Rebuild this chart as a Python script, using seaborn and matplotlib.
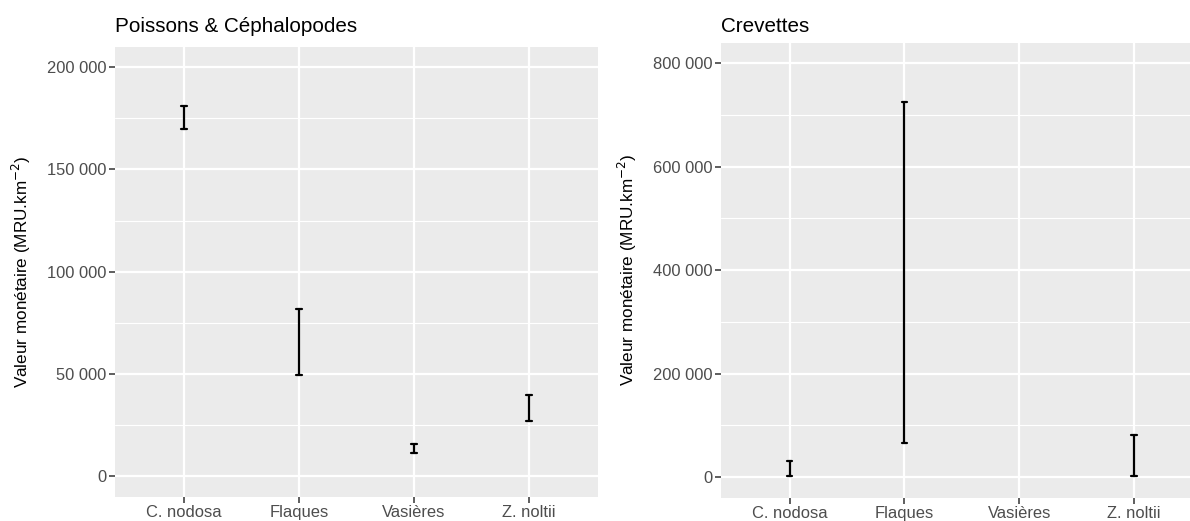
import numpy as np
import pandas as pd
import matplotlib
matplotlib.use("Agg")
import matplotlib.pyplot as plt
from matplotlib.ticker import FuncFormatter, MultipleLocator
import seaborn as sns

# =============================================================================
# Données (bornes min / max par site)
# =============================================================================
SITES = ["C. nodosa", "Flaques", "Vasières", "Z. noltii"]

poissons_min = [170000, 49600, 11200, 27000]
poissons_max = [181000, 81800, 15800, 39800]

crevettes_min = [1500, 65800, np.nan, 1500]
crevettes_max = [31000, 725000, np.nan, 80700]

PANEL_BG = "#EBEBEB"
TICK_TXT = "#4D4D4D"
TICK_COL = "#333333"
FONT = ["Liberation Sans", "DejaVu Sans"]

sns.set_theme(style="white")
plt.rcParams["font.family"] = FONT


def long_df(lo, hi):
    return pd.DataFrame({
        "site": SITES * 2,
        "valeur": list(lo) + list(hi),
    })


def fmt_space(v, _pos):
    return f"{v:,.0f}".replace(",", " ")


def draw_panel(ax, df, ymax, major, title):
    sns.pointplot(data=df, x="site", y="valeur", order=SITES,
                  estimator="mean",
                  errorbar=lambda v: (v.min(), v.max()),
                  capsize=0.05, color="black",
                  err_kws={"linewidth": 1.6},
                  linestyle="none", markersize=0, ax=ax)

    ax.set_facecolor(PANEL_BG)
    for sp in ax.spines.values():
        sp.set_visible(False)

    ax.set_xlim(-0.6, len(SITES) - 0.4)
    ax.set_ylim(-0.05 * ymax, 1.05 * ymax)
    ax.yaxis.set_major_locator(MultipleLocator(major))
    ax.yaxis.set_minor_locator(MultipleLocator(major / 2))
    ax.yaxis.set_major_formatter(FuncFormatter(fmt_space))

    ax.grid(True, which="major", axis="both", color="white", linewidth=1.6)
    ax.grid(True, which="minor", axis="y", color="white", linewidth=0.8)
    ax.set_axisbelow(True)

    ax.tick_params(axis="both", which="major", left=True, bottom=True,
                   direction="out", length=4, width=1.1,
                   color=TICK_COL, labelcolor=TICK_TXT, labelsize=11.9,
                   pad=2)
    ax.tick_params(axis="y", which="minor", left=False, length=0)
    ax.set_xlabel("")
    ax.set_ylabel("Valeur monétaire (MRU.km$^{-2}$)", fontsize=12.3,
                  color="black")
    ax.yaxis.set_label_coords(-0.17, 0.5)
    ax.text(0.0, 0, title, transform=ax.transAxes, fontsize=14.9,
            color="black", ha="left", va="baseline")


# =============================================================================
# Figure
# =============================================================================
fig = plt.figure(figsize=(11.9, 5.21), dpi=100)
ax1 = fig.add_axes([115 / 1190, 24.3 / 521, 482.7 / 1190, 450 / 521])
ax2 = fig.add_axes([720.7 / 1190, 23.3 / 521, 482.3 / 1190, 455 / 521])

draw_panel(ax1, long_df(poissons_min, poissons_max), 200000, 50000,
           "Poissons & Céphalopodes")
draw_panel(ax2, long_df(crevettes_min, crevettes_max), 800000, 200000,
           "Crevettes")

# titres alignés sur la même ligne de base
for ax in (ax1, ax2):
    t = ax.texts[-1]
    t.set_transform(fig.transFigure)
    t.set_position((ax.get_position().x0, (521 - 31.7) / 521))

fig.savefig("out.png", dpi=100)
